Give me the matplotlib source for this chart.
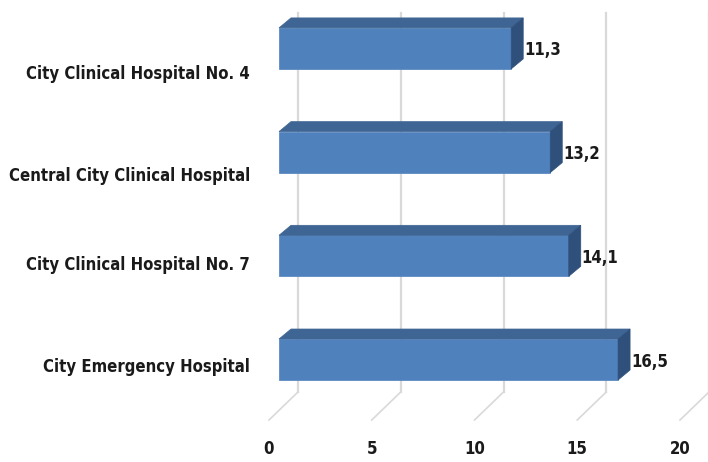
import numpy as np
import matplotlib
matplotlib.use("Agg")
import matplotlib.pyplot as plt
from matplotlib.patches import Polygon
from matplotlib import font_manager

# data ******************************************************************************************
hospitals = ["City Emergency Hospital", "City Clinical Hospital No. 7",
             "Central City Clinical Hospital", "City Clinical Hospital No. 4"]
values = [16.5, 14.1, 13.2, 11.3]
value_labels = ["16,5", "14,1", "13,2", "11,3"]
x_ticks = [0, 5, 10, 15, 20]

# layout (pixels) *******************************************************************************
W, H = 708, 462
px_unit = 20.55          # px per value unit
px_cat = 103.7           # px between categories
x_zero = 279             # value 0 on bar front plane
y_first = 359.5          # centre of lowest bar front face
bar_px = 41
bar_depth = (12, 10)     # front -> back of bar (right, up)
wall_dx = 19             # bar front plane -> back wall
floor_dx = -10           # bar front plane -> floor front edge
wall_top, wall_bot, floor_front = 13, 392, 420
label_nudge = [-8, -9, -24, -26]   # px, category labels sit below the bars

# narrow bold font if one is installed, otherwise Liberation Sans a bit smaller
narrow = [f for f in font_manager.fontManager.ttflist
          if ("Narrow" in f.name or f.stretch in ("condensed", "semi-condensed"))
          and f.weight in ("bold", 700)]
if narrow:
    fprops = dict(fontproperties=font_manager.FontProperties(fname=narrow[0].fname, size=12))
else:
    fprops = dict(family=["Liberation Sans", "DejaVu Sans"], fontweight="bold", fontsize=11)

fig = plt.figure(figsize=(W / 100, H / 100), dpi=100)
ax = fig.add_axes([0, 0, 1, 1])
ax.set_xlim(-x_zero / px_unit, (W - x_zero) / px_unit)
ax.set_ylim(-(H - y_first) / px_cat, y_first / px_cat)
ax.axis("off")


def px_to_y(py):
    return (y_first - py) / px_cat


def dx(p):
    return p / px_unit


def dy(p):
    return p / px_cat


ind = np.arange(len(hospitals))
grid_col = "#d9d9d9"
txt_col = "#1a1a1a"

# back wall gridlines and floor lines
for t in x_ticks:
    ax.plot([t + dx(wall_dx)] * 2, [px_to_y(wall_bot), px_to_y(wall_top)], color=grid_col, lw=1.6, zorder=1)
    ax.plot([t + dx(floor_dx), t + dx(wall_dx)], [px_to_y(floor_front), px_to_y(wall_bot)],
            color=grid_col, lw=1.2, zorder=1)
    ax.text(t + dx(floor_dx), px_to_y(449), str(t), ha="center", va="center", color=txt_col, **fprops)

# bars: front face from barh, top and side faces as polygons
h = bar_px / px_cat
ax.barh(ind, values, height=h, left=0, color="#4f81bd", edgecolor="#4f81bd", lw=0.5, zorder=3)
ddx, ddy = dx(bar_depth[0]), dy(bar_depth[1])
for i, v in enumerate(values):
    yt, yb = i + h / 2, i - h / 2
    top = Polygon([(0, yt), (v, yt), (v + ddx, yt + ddy), (ddx, yt + ddy)], closed=True,
                  facecolor="#3e6593", edgecolor="#3e6593", lw=0.5, zorder=3)
    side = Polygon([(v, yb), (v, yt), (v + ddx, yt + ddy), (v + ddx, yb + ddy)], closed=True,
                   facecolor="#30507c", edgecolor="#30507c", lw=0.5, zorder=3)
    ax.add_patch(top)
    ax.add_patch(side)
    ax.text(v + ddx + dx(1), i - dy(2), value_labels[i], ha="left", va="center",
            color=txt_col, zorder=4, **fprops)
    ax.text(dx(250 - x_zero), i + dy(label_nudge[i]), hospitals[i], ha="right", va="center",
            color=txt_col, **fprops)

fig.savefig("out.png", dpi=100)
